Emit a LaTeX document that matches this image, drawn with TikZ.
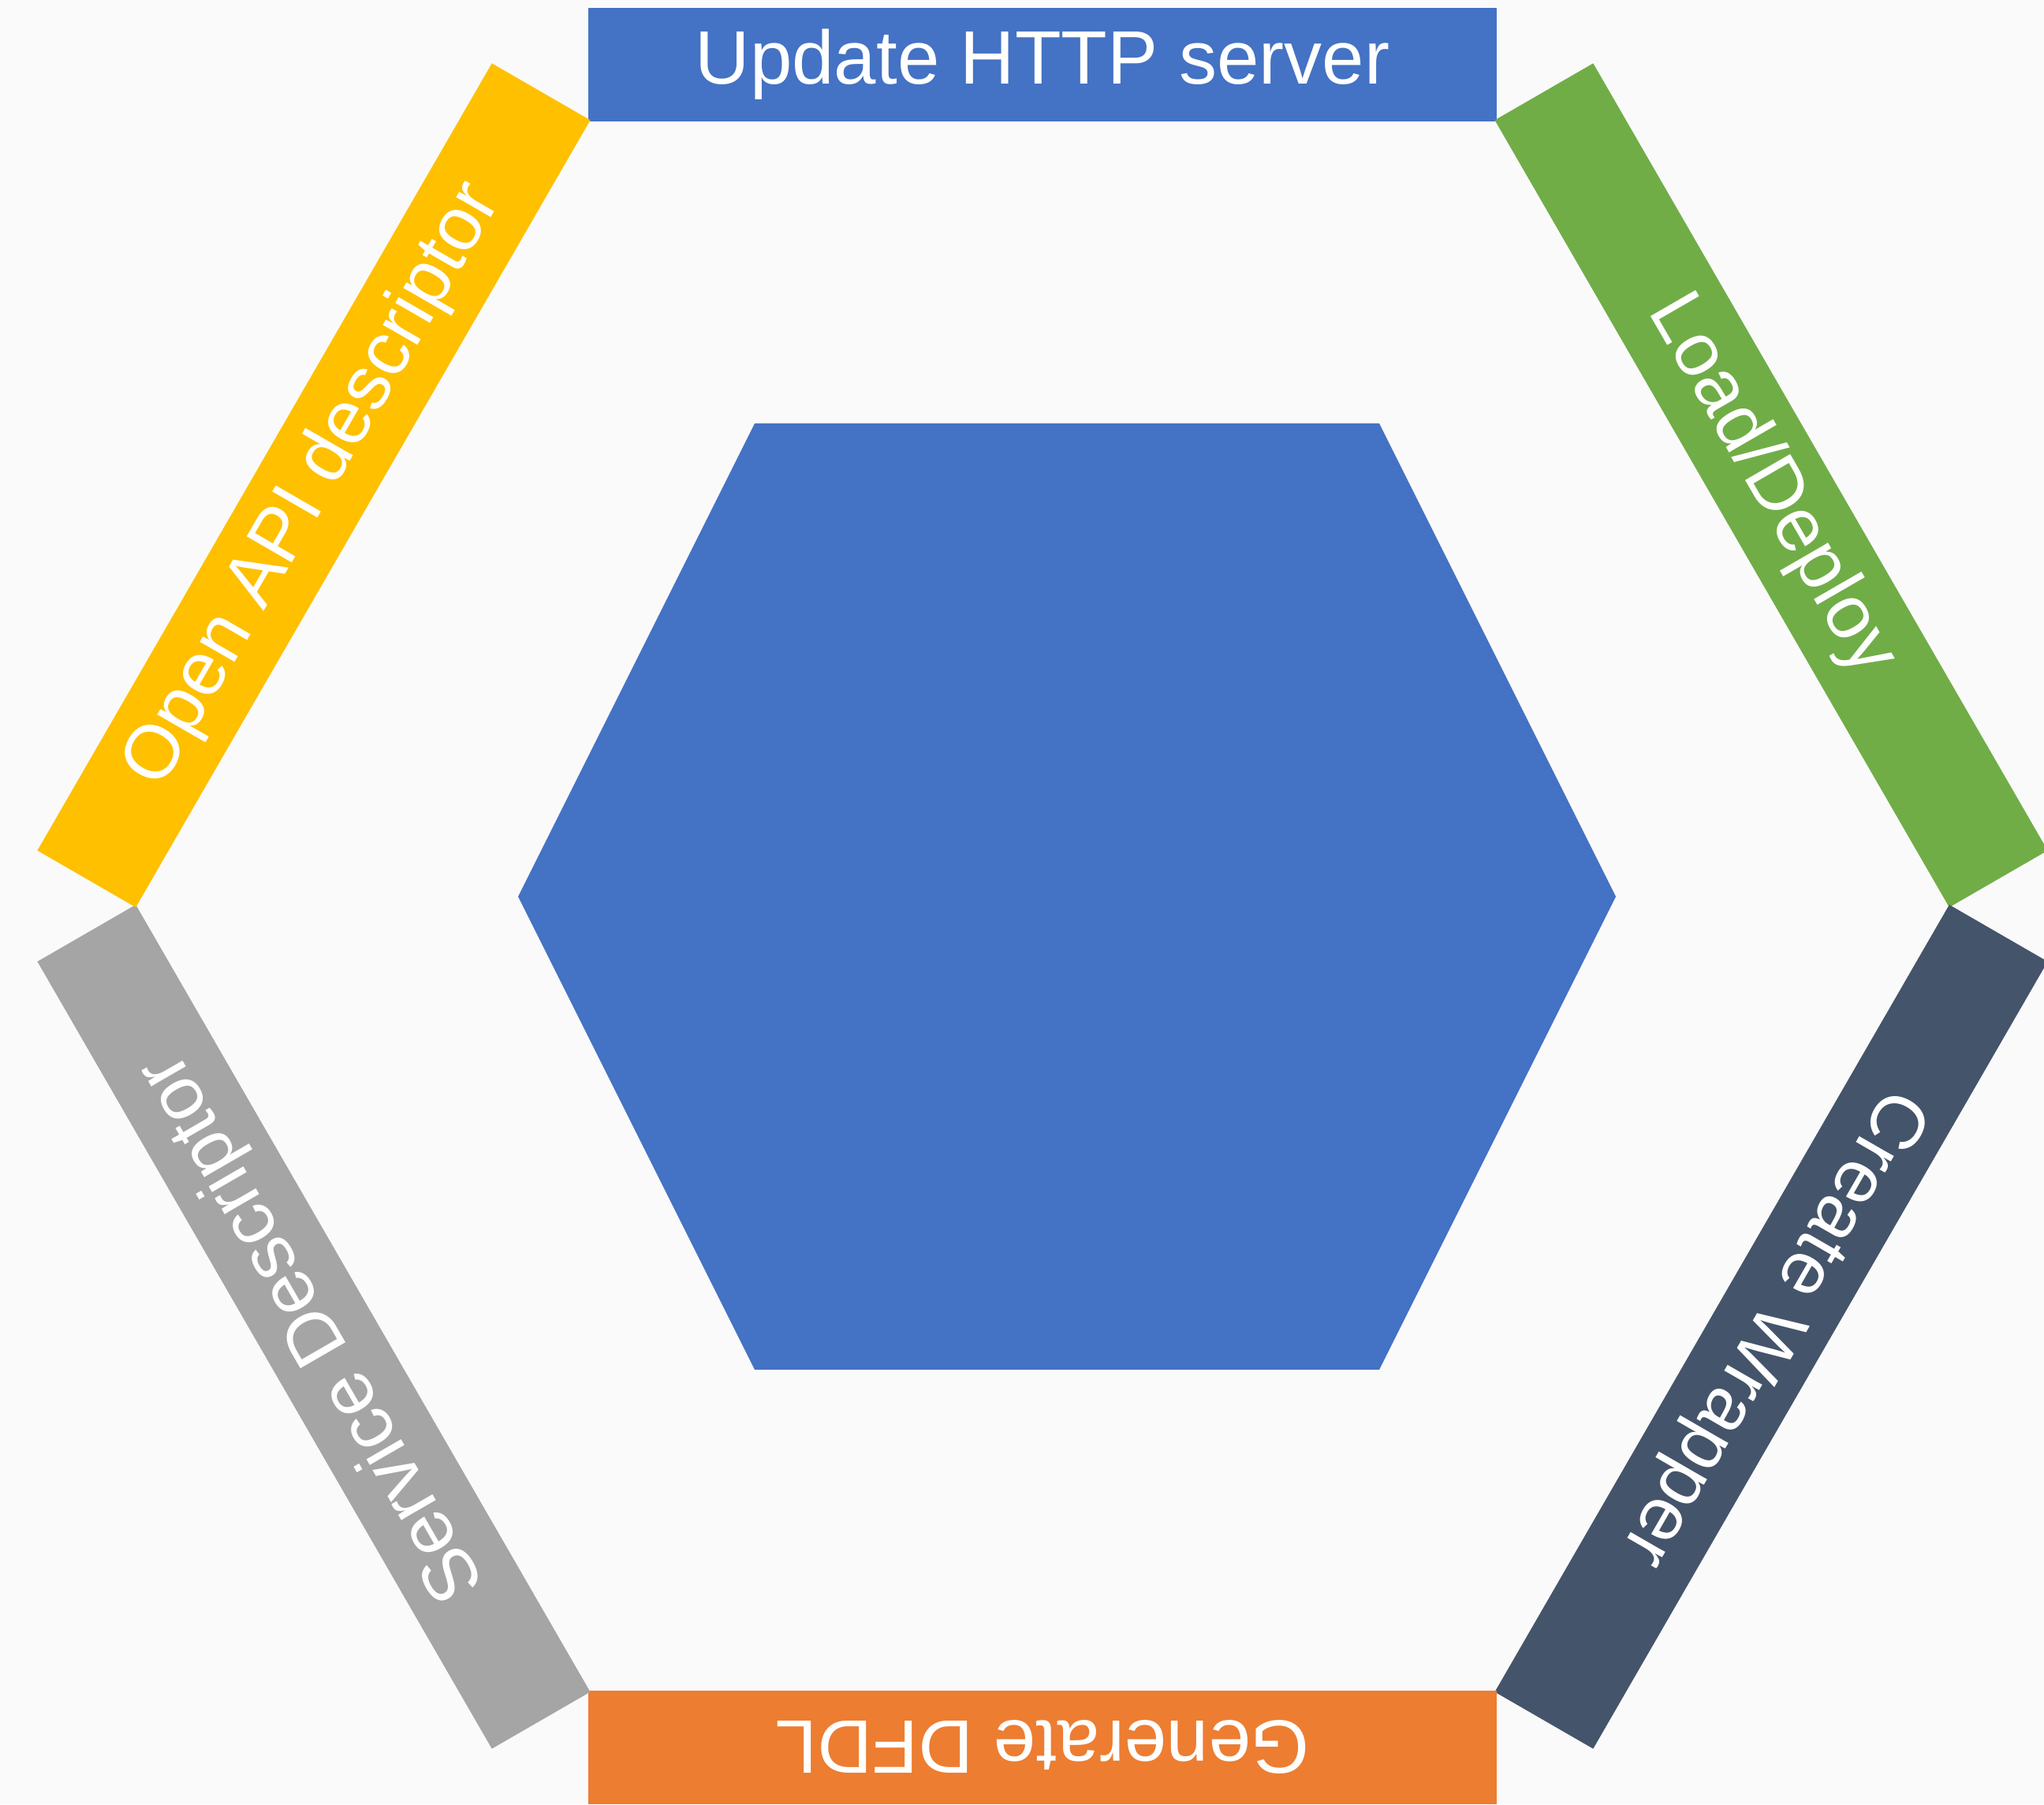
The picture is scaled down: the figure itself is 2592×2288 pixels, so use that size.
\documentclass[tikz,border=0pt]{standalone}
\usepackage{fontspec}
\setmainfont{Liberation Sans}
\usetikzlibrary{calc}
\definecolor{bgcol}{HTML}{FAFAFA}
\definecolor{cblue}{HTML}{4472C4}
\definecolor{cyellow}{HTML}{FFC000}
\definecolor{cgreen}{HTML}{70AD47}
\definecolor{cslate}{HTML}{44546A}
\definecolor{cgray}{HTML}{A5A5A5}
\definecolor{corange}{HTML}{ED7D31}
\tikzset{
  bar/.style={rectangle, draw=none, inner sep=0pt, minimum width=11.52cm,
    minimum height=1.44cm, text=white,
    font=\fontsize{27.3}{32}\selectfont}
}
\begin{document}
\begin{tikzpicture}[x=0.01cm,y=0.01cm]
  % canvas
  \fill[bgcol] (0,0) rectangle (2592,2288);
  \useasboundingbox (0,0) rectangle (2592,2288);

  % centre of the ring of bars
  \coordinate (C) at (1322,1139);

  % central hexagon
  \fill[cblue] (957,1751) -- (1749,1751) -- (2049,1151) -- (1749,551)
    -- (957,551) -- (657,1151) -- cycle;

  % six bars around the centre, text facing outwards
  \node[bar, fill=cblue,   rotate=0]   (http)    at ($(C)+(90:1067)$)  {Update HTTP server};
  \node[bar, fill=cgreen,  rotate=-60] (deploy)  at ($(C)+(30:1067)$)  {Load/Deploy};
  \node[bar, fill=cslate,  rotate=240] (wrapper) at ($(C)+(-30:1067)$) {Create Wrapper};
  \node[bar, fill=corange, rotate=180] (dfdl)    at ($(C)+(270:1067)$) {Generate DFDL};
  \node[bar, fill=cgray,   rotate=120] (service) at ($(C)+(210:1067)$) {Service Descriptor};
  \node[bar, fill=cyellow, rotate=60]  (openapi) at ($(C)+(150:1067)$) {Open API descriptor};
\end{tikzpicture}
\end{document}
